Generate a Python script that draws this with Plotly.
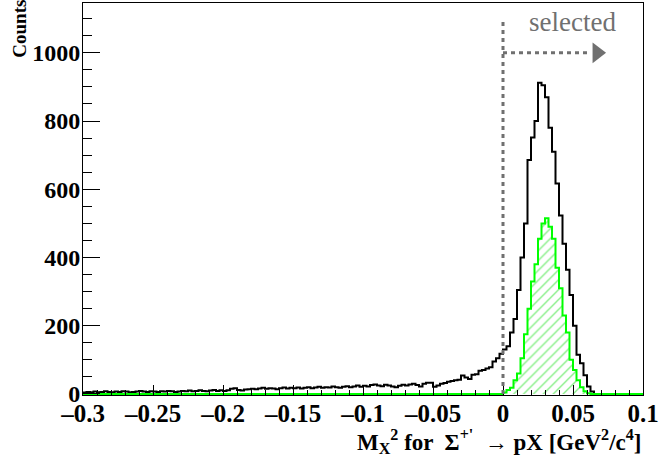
import numpy as np
import plotly.graph_objects as go

# ---- data -------------------------------------------------------------
bin_start = -0.3
bin_width = 0.0025

# all candidates (black outline), 160 bins from -0.3 to 0.1
all_counts = [
    # -0.3 .. -0.25
    4, 6, 5, 7, 5, 6, 8, 6, 5, 7, 6, 8, 7, 5, 6, 7, 9, 7, 6, 8,
    # -0.25 .. -0.2
    7, 6, 8, 7, 9, 8, 6, 7, 9, 8, 10, 8, 9, 11, 9, 8, 10, 12, 9, 11,
    # -0.2 .. -0.15
    9, 11, 15, 17, 12, 10, 13, 14, 15, 14, 16, 18, 15, 17, 16, 14, 17, 19, 16, 18,
    # -0.15 .. -0.1
    17, 19, 16, 18, 20, 17, 19, 21, 18, 20, 19, 22, 20, 18, 21, 23, 20, 22, 25, 21,
    # -0.1 .. -0.0625
    24, 22, 26, 28, 25, 23, 27, 25, 22, 20, 24, 27, 25, 28, 30,
    # -0.0625 .. 0
    26, 22, 30, 33, 33, 21, 25, 30, 32, 36, 38, 40, 42, 54, 48, 44, 56, 58, 68, 70,
    75, 78, 95, 105, 118,
    # 0 .. 0.065
    130, 140, 180, 220, 305, 400, 500, 686, 752, 800, 912, 905, 870, 780, 710, 617,
    523, 440, 364, 290, 200, 115, 90, 55, 22, 7,
    # 0.065 .. 0.1
    0, 0, 0, 0, 0, 0, 0, 0, 0, 0, 0, 0, 0, 0,
]

# selected sample (green hatched), 160 bins
selected_counts = [0] * 120 + [
    4, 12, 18, 40, 60, 105, 175, 250, 330, 380, 455, 500, 515, 490, 455, 370,
    310, 230, 180, 100, 70, 40, 20, 8, 2,
] + [0] * 15

x_tickvals = [-0.3, -0.25, -0.2, -0.15, -0.1, -0.05, 0, 0.05, 0.1]
x_ticktext = ["\u20130.3", "\u20130.25", "\u20130.2", "\u20130.15", "\u20130.1",
              "\u20130.05", "0", "0.05", "0.1"]
y_tickvals = [0, 200, 400, 600, 800, 1000]
y_ticktext = ["0", "200", "400", "600", "800", "1000"]

cut_value = 0.0
arrow_y = 1000
arrow_end = 0.062
arrow_head = 0.0672
cut_line_top = 1100

# ---- figure -----------------------------------------------------------
n = len(all_counts)
edges = bin_start + bin_width * np.arange(n + 1)
black_y = list(all_counts) + [all_counts[-1]]
green_y = list(selected_counts) + [selected_counts[-1]]

serif = "Liberation Serif"
grey = "#707070"

fig = go.Figure()
fig.add_trace(go.Scatter(
    x=edges, y=black_y, mode="lines",
    line=dict(color="black", width=2, shape="hv"),
    showlegend=False, hoverinfo="skip"))
fig.add_trace(go.Scatter(
    x=edges, y=green_y, mode="lines",
    line=dict(color="#00ff00", width=2, shape="hv"),
    fill="tozeroy", fillcolor="rgba(0,0,0,0)",
    fillpattern=dict(shape="/", fgcolor="#11e011", bgcolor="rgba(255,255,255,0)",
                     size=7, solidity=0.2),
    showlegend=False, hoverinfo="skip"))
fig.add_trace(go.Scatter(
    x=[arrow_head], y=[arrow_y], mode="markers",
    marker=dict(symbol="triangle-right", size=18, color=grey),
    showlegend=False, hoverinfo="skip"))

fig.add_shape(type="line", x0=cut_value, x1=cut_value, y0=0, y1=cut_line_top,
              xref="x", yref="y", line=dict(color=grey, width=3, dash="4px,4px"))
fig.add_shape(type="line", x0=cut_value, x1=arrow_end, y0=arrow_y, y1=arrow_y,
              xref="x", yref="y", line=dict(color=grey, width=3, dash="4px,4px"))

fig.add_annotation(text="selected", x=0.017, y=1089, xref="x", yref="y",
                   xanchor="left", yanchor="middle", showarrow=False,
                   font=dict(family=serif, size=27, color=grey))

fig.add_annotation(
    text="M<sub>X</sub><sup>2</sup> for  \u03a3<sup>+'</sup>  \u2192 pX [GeV<sup>2</sup>/c<sup>4</sup>]",
    x=1.0, y=-0.118, xref="paper", yref="paper", xanchor="right", yanchor="middle",
    showarrow=False, font=dict(family=serif, size=23, color="black", weight="bold"))

fig.add_annotation(
    text="Counts", textangle=-90, x=-0.115, y=1.01, xref="paper", yref="paper",
    xanchor="center", yanchor="top", showarrow=False, borderpad=0,
    font=dict(family=serif, size=19, color="black", weight="bold"))

fig.update_layout(
    width=659, height=459,
    margin=dict(l=83, r=16, t=3, b=64, autoexpand=False),
    paper_bgcolor="white", plot_bgcolor="white",
    xaxis=dict(
        range=[-0.3, 0.1], tickmode="array", tickvals=x_tickvals, ticktext=x_ticktext,
        ticks="inside", ticklen=10, tickwidth=1, tickcolor="black",
        showline=True, mirror=True, linecolor="black", linewidth=1,
        showgrid=False, zeroline=False, automargin=False, ticklabelstandoff=-4,
        minor=dict(ticks="inside", dtick=0.01, ticklen=5, tickcolor="black", showgrid=False),
        tickfont=dict(family=serif, size=25, color="black", weight="bold"),
    ),
    yaxis=dict(
        range=[-3, 1146], tickmode="array", tickvals=y_tickvals, ticktext=y_ticktext,
        ticks="inside", ticklen=17, tickwidth=1, tickcolor="black",
        showline=True, mirror=True, linecolor="black", linewidth=1,
        showgrid=False, zeroline=False, automargin=False, ticklabelstandoff=-3,
        minor=dict(ticks="inside", dtick=50, ticklen=9, tickcolor="black", showgrid=False),
        tickfont=dict(family=serif, size=24, color="black", weight="bold"),
    ),
)

fig.write_html("out.html", config={"displayModeBar": False},
               post_script="document.body.style.margin='0';")
